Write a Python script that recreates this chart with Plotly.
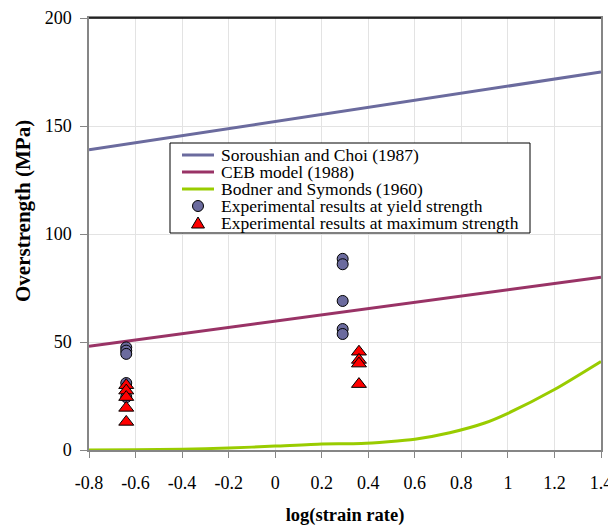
import plotly.graph_objects as go

# Model lines
x_lin = [-0.8, 1.4]
soroushian = [139, 175]
ceb = [48, 80]

bodner_x = [-0.8, -0.6, -0.4, -0.2, 0.0, 0.2, 0.37, 0.6, 0.75, 0.9, 1.0, 1.2, 1.4]
bodner_y = [0.0, 0.1, 0.4, 0.9, 1.8, 2.8, 3.0, 5.0, 8.0, 12.5, 17.0, 28.0, 41.0]

# Experimental results
yield_x = [-0.64, -0.64, -0.64, -0.64, -0.64, 0.29, 0.29, 0.29, 0.29, 0.29]
yield_y = [47.5, 46.0, 44.5, 31.0, 24.5, 88.5, 86.0, 69.0, 56.0, 53.7]

max_x = [-0.64, -0.64, -0.64, -0.64, -0.64, 0.36, 0.36, 0.36, 0.36]
max_y = [30.0, 27.5, 24.5, 19.5, 13.0, 45.5, 41.7, 40.0, 30.5]

# Tick labels
x_tickvals = [-0.8, -0.6, -0.4, -0.2, 0.0, 0.2, 0.4, 0.6, 0.8, 1.0, 1.2, 1.4]
x_ticktext = ["-0.8", "-0.6", "-0.4", "-0.2", "0", "0.2", "0.4", "0.6", "0.8", "1", "1.2", "1.4"]
y_tickvals = [0, 50, 100, 150, 200]
y_ticktext = ["0", "50", "100", "150", "200"]

series_names = ["Soroushian and Choi (1987)", "CEB model (1988)", "Bodner and Symonds (1960)",
                "Experimental results at yield strength", "Experimental results at maximum strength"]
c_sor, c_ceb, c_bod, c_yield, c_max = "#6b6b9e", "#993366", "#99cc00", "#6b6b9e", "#ff0000"

FONT = "Liberation Serif"

fig = go.Figure()
fig.add_trace(go.Scatter(x=x_lin, y=soroushian, mode="lines", name=series_names[0],
                         line=dict(color=c_sor, width=3)))
fig.add_trace(go.Scatter(x=x_lin, y=ceb, mode="lines", name=series_names[1],
                         line=dict(color=c_ceb, width=3)))
fig.add_trace(go.Scatter(x=bodner_x, y=bodner_y, mode="lines", name=series_names[2],
                         line=dict(color=c_bod, width=3, shape="spline", smoothing=0.6)))
fig.add_trace(go.Scatter(x=yield_x, y=yield_y, mode="markers", name=series_names[3],
                         marker=dict(symbol="circle", size=11, color=c_yield,
                                     line=dict(color="black", width=1))))
fig.add_trace(go.Scatter(x=max_x, y=max_y, mode="markers", name=series_names[4],
                         marker=dict(symbol="triangle-up", size=13, color=c_max,
                                     line=dict(color="black", width=1))))

W, H = 608, 526
ML, MR, MT, MB = 89, 7, 18, 76
PW, PH = W - ML - MR, H - MT - MB


def px2paper(px, py):
    return (px - ML) / PW, (H - MB - py) / PH


fig.update_layout(
    width=W, height=H,
    margin=dict(l=ML, r=MR, t=MT, b=MB, autoexpand=False),
    paper_bgcolor="white", plot_bgcolor="white",
    font=dict(family=FONT, size=18, color="black"),
    showlegend=False,
    xaxis=dict(range=[-0.8, 1.4], tickmode="array", tickvals=x_tickvals, ticktext=x_ticktext,
               showgrid=True, gridcolor="#e3e3e3", gridwidth=1,
               showline=True, linecolor="#868686", linewidth=1.5, mirror=True,
               ticks="outside", ticklen=6, tickcolor="#868686",
               tickfont=dict(family=FONT, size=18), ticklabeloverflow="allow",
               ticklabelstandoff=10, automargin=False,
               zeroline=False,
               title=dict(text="<b>log(strain rate)</b>", font=dict(family=FONT, size=18.5), standoff=19)),
    yaxis=dict(range=[0, 200], tickmode="array", tickvals=y_tickvals, ticktext=y_ticktext,
               showgrid=True, gridcolor="#e3e3e3", gridwidth=1,
               showline=True, linecolor="#868686", linewidth=1.5, mirror=True,
               ticks="outside", ticklen=7, tickcolor="#868686",
               tickfont=dict(family=FONT, size=18),
               ticklabelstandoff=5, automargin=False,
               zeroline=False),
)
fig.add_shape(type="line", xref="paper", yref="paper", x0=0, x1=1, y0=1, y1=1,
              line=dict(color="black", width=1.5))

# Y axis title
tx_, ty_ = px2paper(23, 211)
fig.add_annotation(x=tx_, y=ty_, xref="paper", yref="paper", text="<b>Overstrength (MPa)</b>",
                   showarrow=False, textangle=-90, xanchor="center", yanchor="middle",
                   font=dict(family=FONT, size=21, color="black"))

# Legend box (compact, as in the original)
bx0, by1 = px2paper(170, 143)
bx1, by0 = px2paper(530, 233)
fig.add_shape(type="rect", xref="paper", yref="paper", x0=bx0, x1=bx1, y0=by0, y1=by1,
              line=dict(color="black", width=1), fillcolor="white", layer="above")
row_y = [155, 172, 189, 206, 223]
for i, name in enumerate(series_names):
    _, ry = px2paper(0, row_y[i])
    if i < 3:
        lx0, _ = px2paper(182, 0)
        lx1, _ = px2paper(214, 0)
        col = [c_sor, c_ceb, c_bod][i]
        fig.add_shape(type="line", xref="paper", yref="paper", x0=lx0, x1=lx1, y0=ry, y1=ry,
                      line=dict(color=col, width=3), layer="above")
    else:
        cx, _ = px2paper(198, 0)
        if i == 3:
            fig.add_shape(type="circle", xref="paper", yref="paper",
                          xsizemode="pixel", ysizemode="pixel", xanchor=cx, yanchor=ry,
                          x0=-5.5, x1=5.5, y0=-5.5, y1=5.5,
                          fillcolor=c_yield, line=dict(color="black", width=1), layer="above")
        else:
            fig.add_shape(type="path", xref="paper", yref="paper",
                          xsizemode="pixel", ysizemode="pixel", xanchor=cx, yanchor=ry,
                          path="M -6.5,-5 L 6.5,-5 L 0,6 Z",
                          fillcolor=c_max, line=dict(color="black", width=1), layer="above")
    tx, _ = px2paper(219, 0)
    fig.add_annotation(x=tx, y=ry, xref="paper", yref="paper", text=name, showarrow=False,
                       xanchor="left", yanchor="middle",
                       font=dict(family=FONT, size=17.5, color="black"))

fig.write_html("out.html")
